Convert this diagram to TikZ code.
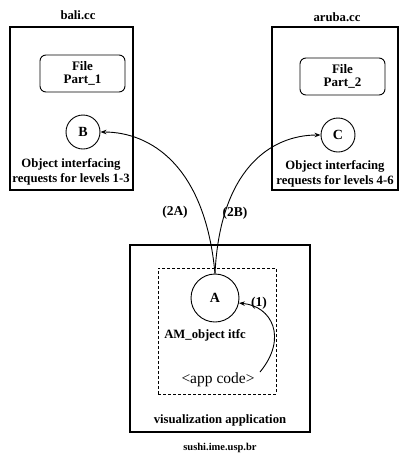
\documentclass[tikz,border=0pt]{standalone}
\usepackage{fontspec}
\setmainfont{Liberation Serif}
\usetikzlibrary{arrows.meta}
\begin{document}
\begin{tikzpicture}[x=1pt,y=-1pt,
  hostbox/.style={draw, line width=1.1pt, inner sep=0pt},
  filebox/.style={draw, line width=0.9pt, rounded corners=6pt, minimum width=85pt, minimum height=37pt, align=center, font=\fontsize{13}{13}\selectfont\bfseries},
  obj/.style={draw, circle, line width=0.9pt, inner sep=0pt, font=\fontsize{14}{14}\selectfont\bfseries},
  lbl/.style={font=\fontsize{12.7}{15}\selectfont\bfseries, align=center, inner sep=0pt},
  arr/.style={line width=0.9pt, -{Stealth[length=6pt,width=4.5pt]}}
]
\useasboundingbox (0,0) rectangle (401,456);
% host boxes
\node[hostbox, minimum width=123pt, minimum height=163pt] (bali) at (71.5,108.5) {};
\node[hostbox, minimum width=126pt, minimum height=163pt] (aruba) at (335,108.5) {};
\node[hostbox, minimum width=180pt, minimum height=187pt] (sushi) at (220,338.5) {};
\node[draw, line width=1pt, dash pattern=on 3pt off 2pt, minimum width=118pt, minimum height=126pt] (itfc) at (217,331) {};
% host names
\node[lbl] (baliname) at (78,15) {bali.cc};
\node[lbl] (arubaname) at (337,17) {aruba.cc};
\node[lbl, font=\fontsize{10.5}{12}\selectfont\bfseries] (sushiname) at (220,448) {sushi.ime.usp.br};
% files
\node[filebox] (f1) at (82.5,73.5) {File\\[0pt]Part\_1};
\node[filebox] (f2) at (342.5,76.5) {File\\[0pt]Part\_2};
% objects
\node[obj, minimum size=34pt] (B) at (83,132) {B};
\node[obj, minimum size=34pt] (C) at (338,135) {C};
\node[obj, minimum size=48pt] (A) at (215,298) {A};
% descriptions
\node[lbl] (bdesc) at (71,171.5) {Object interfacing\\requests for levels 1-3};
\node[lbl] (cdesc) at (335,173.5) {Object interfacing\\requests for levels 4-6};
\node[lbl] (amlbl) at (205,335) {AM\_object itfc};
\node[font=\fontsize{15.5}{16}\selectfont, inner sep=0pt] (app) at (218,380) {<app code>};
\node[lbl] (vis) at (220,420) {visualization application};
% connector labels
\node[lbl, font=\fontsize{13.5}{14}\selectfont\bfseries] (l2a) at (175,212) {(2A)};
\node[lbl, font=\fontsize{13.5}{14}\selectfont\bfseries] (l2b) at (235,213) {(2B)};
\node[lbl, font=\fontsize{13.5}{14}\selectfont\bfseries] (l1) at (259,303) {(1)};
% connectors
\coordinate (s1) at (260,372);
\draw[arr] (s1) .. controls (288,338) and (272,306) .. (A.-12);
\draw[arr] (A.north) .. controls (205,165) and (150,132) .. (B.east);
\draw[arr] (A.north) .. controls (220,170) and (270,135) .. (C.west);
\end{tikzpicture}
\end{document}
